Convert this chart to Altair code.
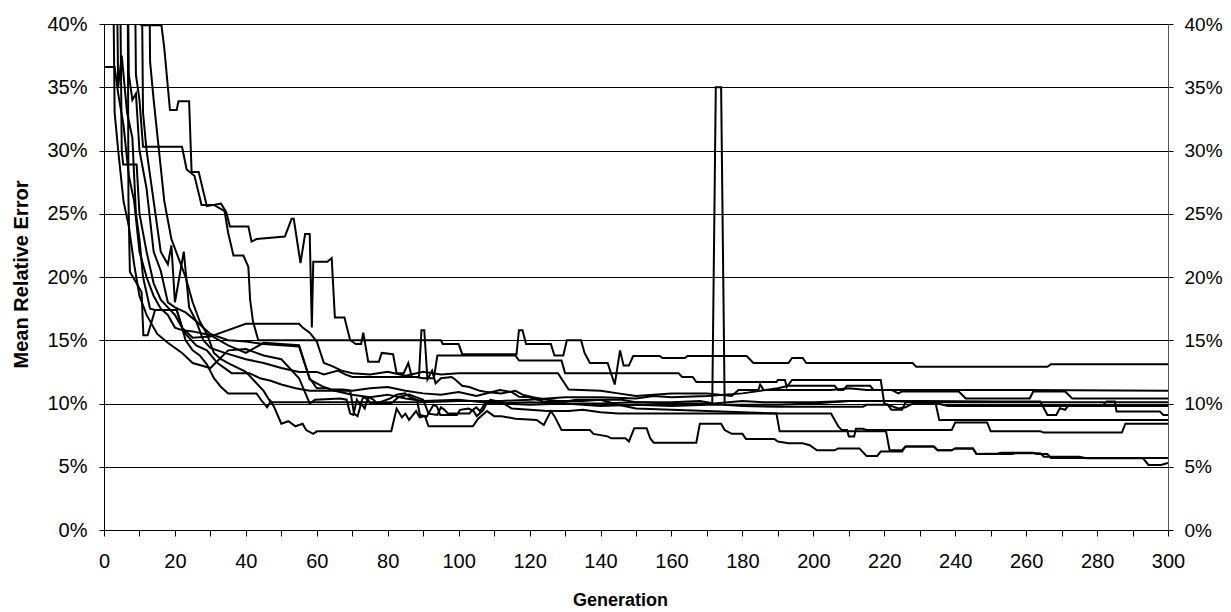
import altair as alt
import pandas as pd

# ---- data: (generation, mean relative error in %) breakpoints per run ----
P = [(0,62),(8,62),(10.5,39.9),(16.2,39.9),(17,38.1),(18.6,33.2),(20.5,33.2),(21,33.9),(24,33.9),(24.7,28.3),(26.7,28.3),(29,25.6),(33,25.8),(34.5,25.1),(35.5,24.0),(40.7,24.0),(41.6,22.8),(43,23.0),(51,23.2),(52.9,24.6),(53.5,24.6),(55.4,21.1),(56.7,23.4),(58,23.4),(58.6,16.0),(59,21.2),(63,21.2),(64.2,21.5),(65.1,16.8),(67.8,16.8),(69.4,15.0),(71,14.7),(72.5,14.7),(73.1,15.6),(74.5,13.3),(77.5,13.3),(78.3,14.0),(81.5,13.9),(82.5,12.4),(84.5,12.4),(85.8,13.2),(86.8,12.1),(88.8,12.1),(89.5,15.8),(90.3,15.8),(91.2,11.9),(92.5,12.6),(93.5,11.6),(95,12.0),(98,12.1),(99,11.9),(101,11.4),(103,11.3),(106,11.0),(108,10.9),(112,10.8),(116,11.0),(118,10.7),(121,10.5),(125,10.3),(128,10.2),(135,10.2),(140,10.3),(146,10.3),(150,10.1),(160,10.1),(168,10.2),(172,10.0),(180,10.2),(186,10.1),(200,10.1),(210,10.2),(222,10.2),(230,10.1),(264,10.1),(300,10.1)]
Q = [(0,65),(8,65),(9,36.0),(10,34.0),(11,30.3),(22,30.3),(23.3,28.5),(25.5,28.0),(27.5,25.7),(31,25.7),(34,25.2),(35,23.5),(36.5,21.7),(39.3,21.7),(40.7,20.8),(41.2,18.2),(42,16.5),(43.5,15.0),(95,15.0),(95.5,14.7),(100,14.7),(101,13.9),(116.3,13.9),(117,15.8),(118,15.8),(119,14.7),(126,14.7),(127,13.8),(129.5,13.8),(130.5,15.0),(134.5,15.0),(135.5,14.0),(137,13.2),(142,13.2),(144,11.5),(145.5,14.2),(146.5,13.0),(148,13.0),(149.2,13.75),(156.7,13.75),(157.5,13.6),(163.8,13.6),(164.5,13.75),(181.2,13.75),(183.1,13.2),(193,13.2),(194,13.6),(197,13.6),(198,13.2),(228,13.2),(229,12.9),(266,12.9),(267,13.1),(300,13.1)]
L3 = [(0,58),(6.5,58),(6.9,26),(7.3,20.4),(9.2,19.5),(10.6,18.8),(11.1,15.4),(12.3,15.4),(14.4,17.4),(20.5,17.4),(21.5,16.5),(23,15.0),(25,14.2),(27,13.8),(29,13.1),(31,12.0),(33,11.3),(35,10.8),(43,10.8),(44.5,10.2),(46,9.7),(47,10.2),(48,9.7),(50,8.4),(52,8.6),(54,8.2),(56,8.4),(57,7.9),(59,7.6),(60,7.8),(81,7.8),(82.5,9.6),(84,8.9),(85,9.2),(86,8.7),(88,9.4),(89,8.9),(90.5,9.0),(91.5,8.2),(104,8.2),(105.5,8.8),(108,9.4),(110,9.0),(112,9.0),(116,8.8),(122,8.7),(124,8.3),(126,9.4),(127,9.0),(129,7.9),(137,7.9),(138,7.6),(142,7.4),(143,7.25),(147,7.25),(148,7.0),(149.5,8.04),(153,8.04),(154,7.25),(155,6.9),(167,6.9),(168,8.4),(174,8.4),(175,7.9),(177,7.6),(180,7.6),(181,7.2),(189,7.2),(190,7.0),(193,6.85),(197,6.85),(199,6.7),(201,6.3),(206,6.3),(207,6.45),(213,6.45),(215,5.85),(218,5.85),(219,6.2),(225,6.2),(226,6.6),(234,6.6),(235,6.3),(239,6.3),(240,6.45),(245,6.45),(246,6.0),(252,6.05),(253,6.1),(262,6.1),(263,6.0),(266,6.0),(267,5.7),(300,5.7)]
L4 = [(0,60),(4,60),(5,30),(5.4,28.9),(9.2,28.9),(10,25),(12,22),(14,19.5),(16,18.2),(18,17.6),(20,17.0),(23,15.5),(26,14.6),(29,14.2),(32,13.2),(36,12.4),(41,12.4),(44,12.0),(47,11.8),(50,11.5),(54,11.2),(58,11.0),(69,11.0),(69.5,10.9),(70.5,9.2),(71.5,9.0),(72.5,10.0),(73.5,9.6),(74.5,10.5),(76,10.3),(77,10.0),(81,10.0),(83,10.5),(86,10.7),(88,10.5),(90,10.3),(91.5,9.2),(94,9.1),(95,9.7),(96,9.5),(97,9.2),(103,9.2),(104,9.5),(105,9.7),(106,9.4),(107.5,10.0),(109,10.3),(112,10.1),(115,9.6),(120,9.5),(125,9.4),(131,9.4),(135,9.5),(140,9.3),(145,9.2),(189.6,9.2),(190.5,7.8),(220.5,7.8),(221.5,6.3),(225,6.3),(226,6.6),(234,6.6),(235,6.3),(239,6.3),(240,6.45),(245,6.45),(246,6.0),(256,6.0),(257,6.06),(264,6.06),(265,5.8),(275,5.8),(277,5.67),(293,5.67),(294.5,5.14),(298,5.14),(300,5.3)]
A2 = [(0,64),(10,64),(11,33),(12,30),(14,26),(16,22),(18,21),(19,22.5),(20,18),(22.5,22),(24,17.6),(26,16.5),(28,15),(30,14.4),(34,14.0),(40,13.5),(45,13.2),(50,12.8),(55,12.5),(60,12.5),(62,12.3),(66,12.6),(68,12.3),(70,12.1),(88,12.1),(90,12.0),(93,12.0),(94,13.8),(116,13.8),(117,13.4),(129,13.4),(130,12.4),(162,12.4),(163,12.1),(166,12.1),(167,11.7),(189.6,11.7),(190,11.86),(192,11.86),(192.5,11.3),(194,11.86),(219,11.86),(220,10.0),(221,9.9),(224,9.6),(226,9.7),(228,10.0),(235,10.0),(238,9.8),(245,9.8),(260,9.8),(300,9.8)]
L6 = [(0,58),(3,58),(4,35),(5,37.5),(6.5,33),(8,31),(9,25),(10,23),(11,20),(13,17.5),(14.4,17.4),(20.5,17.4),(22,16.0),(25,15.2),(30,15.3),(35,15.8),(40,16.3),(55,16.3),(56,16.0),(58,15.6),(60,14.9),(62,13.2),(64,13.0),(67,12.6),(70,12.4),(75,12.3),(80,12.5),(85,12.2),(90,12.5),(95,12.3),(100,12.4),(128,12.4),(131,11.1),(140,11.0),(145,10.8),(150,10.6),(160,10.8),(170,10.8),(177,10.6),(178.9,11.07),(184.5,11.07),(185,11.5),(186,11.07),(196,11.07),(205,11.07),(210,11.2),(215,11.07),(240,11.07),(260,11.07),(300,11.0)]
C = [(0,66),(12,66),(13,37),(14,34),(15.5,30),(17,26),(19,23),(21,21.5),(23,20),(25,18),(27,16.5),(29,15.5),(31,14.0),(33,13.5),(35,13.2),(40,12.5),(45,11.0),(47,10.1),(90,10.1),(100,10.2),(112,10.2),(120,10.3),(130,10.5),(140,10.5),(150,10.4),(155,10.6),(160,10.5),(170,10.6),(180,10.8),(190,11.2),(193,11.4),(206,11.4),(207,11.07),(208.5,11.07),(209.5,11.4),(216,11.4),(217,11.07),(222,11.07),(224,10.8),(225,10.95),(241,10.95),(243,10.4),(261,10.4),(262,10.95),(271,10.95),(273,10.4),(300,10.4)]
F = [(0,60),(2,60),(3,33),(4,30),(5.5,26),(7,24),(8.5,21),(10,18.5),(12,17.0),(15,15.5),(18,14.8),(22,14.0),(25,13.2),(30,12.8),(35,14.2),(40,14.3),(45,13.8),(50,13.5),(55,12.0),(58,10.0),(59.5,10.3),(66.6,10.4),(68.4,10.3),(69.4,9.2),(70.3,9.1),(71.3,10.3),(72.2,9.9),(73.1,10.5),(74.5,10.3),(75,10.0),(76.9,10.0),(80.7,10.4),(82.5,10.7),(84.9,10.8),(86.3,10.5),(88.2,10.3),(89.1,9.1),(91,8.96),(92.9,9.9),(93.9,9.75),(94.8,9.1),(99.5,9.1),(100.4,9.5),(102.8,9.6),(104.2,9.4),(105.1,9.0),(107,9.5),(108,10.1),(112,10.0),(120,9.9),(130,10.0),(140,9.8),(150,9.9),(160,9.8),(170,9.9),(180,9.9),(190,9.9),(200,10.0),(210,10.2),(230,10.2),(252,10.15),(264,10.15),(266,9.1),(268.5,9.1),(269.5,9.62),(271,9.5),(272,9.88),(281.7,9.88),(282.7,10.15),(285,10.15),(285.5,9.36),(297.7,9.36),(298.7,9.1),(300,9.1)]
S = [(0,62),(6,62),(7,36),(8,34),(9,34.5),(10,30),(12,27),(14,22),(16,20.5),(18,18),(20,17.6),(23,17.2),(26,16.5),(30,15.5),(35,15.0),(40,14.9),(45,14.7),(50,14.6),(55,14.5),(58,12.0),(60,11.2),(63,11.2),(65,11.0),(70,10.7),(75,10.5),(80,10.7),(85,10.4),(90,10.2),(100,10.3),(110,10.0),(120,10.1),(130,10.0),(140,10.0),(150,10.1),(160,10.0),(171.5,10.0),(172.5,35.0),(174,35.0),(175,9.9),(180,9.8),(190,9.75),(214,9.75),(215,9.9),(221,9.9),(222,9.5),(225,9.5),(226,10.1),(233,10.1),(234.5,10.0),(235.5,8.7),(300,8.7)]
H = [(0,36.6),(3,36.6),(4,34.5),(5.5,32),(7,28),(8.5,26),(10,22),(12,20),(14,18.5),(16,17.5),(18,17.0),(20,16.0),(22,15.8),(25,15.7),(30,15.4),(35,14.6),(40,14.0),(45,14.8),(50,14.7),(55,14.6),(58,11.9),(60,11.6),(62,11.3),(64,11.1),(67.5,11.1),(70,11.0),(75,11.2),(80,11.3),(85,11.0),(90,10.8),(95,10.7),(100,10.9),(105,10.6),(111.6,11.07),(115,10.9),(117,10.54),(120,10.5),(124,10.14),(130,10.14),(133,10.3),(140,10.3),(145,9.9),(150,9.6),(160,9.5),(170,9.4),(180,9.3),(190,9.2),(205,9.2),(207,8.2),(208,7.9),(209.5,7.9),(210,7.4),(211.5,7.4),(212,8.0),(214,8.0),(215,7.9),(239,7.9),(240,8.5),(249,8.5),(250,7.8),(264,7.8),(265,7.7),(287,7.7),(288,8.4),(300,8.4)]

SERIES = {"P": P, "Q": Q, "L3": L3, "L4": L4, "A2": A2, "L6": L6, "C": C, "F": F, "S": S, "H": H}
Y_TICKS = [0, 5, 10, 15, 20, 25, 30, 35, 40]
X_TICKS = list(range(0, 301, 10))

rows = []
for name, pts in SERIES.items():
    for i, (g, v) in enumerate(pts):
        rows.append({"series": name, "idx": i, "gen": g, "val": v})
df = pd.DataFrame(rows)

FONT = "Liberation Sans"
xscale = alt.Scale(domain=[0, 300], nice=False, zero=False)
yscale = alt.Scale(domain=[0, 40], nice=False)

xaxis = alt.Axis(values=X_TICKS, labelExpr="datum.value % 20 === 0 ? '' + datum.value : ''",
                 grid=False, tickSize=6, tickColor="black", domainColor="black",
                 labelFont=FONT, labelFontSize=20, labelColor="black", labelPadding=15,
                 labelFlush=False, labelOverlap=False,
                 title="Generation", titleFont=FONT, titleFontSize=18, titleFontWeight="bold",
                 titleColor="black", titleX=516, titleY=70, titleAlign="center", titleBaseline="middle")

yaxis_left = alt.Axis(values=Y_TICKS, labelExpr="datum.value + '%'", grid=True, gridColor="black",
                      gridWidth=1, tickSize=5, tickColor="black", domainColor="black",
                      labelFont=FONT, labelFontSize=20, labelColor="black", labelPadding=12,
                      labelFlush=False, labelOverlap=False,
                      title="Mean Relative Error", titleFont=FONT, titleFontSize=20,
                      titleFontWeight="bold", titleColor="black", titleX=-83, titleY=250,
                      titleAngle=270, titleAlign="center", titleBaseline="middle")

yaxis_right = alt.Axis(values=Y_TICKS, labelExpr="datum.value + '%'", grid=False, orient="right",
                       tickSize=5, tickColor="black", domainColor="#555",
                       labelFont=FONT, labelFontSize=19, labelColor="black", labelPadding=11,
                       labelFlush=False, labelOverlap=False, title=None)

base = alt.Chart(df)
lines = base.mark_line(color="black", strokeWidth=2, clip=True).encode(
    x=alt.X("gen:Q", scale=xscale, axis=xaxis),
    y=alt.Y("val:Q", scale=yscale, axis=yaxis_left),
    detail="series:N",
    order="idx:Q",
)
right = base.mark_point(opacity=0, clip=True).encode(
    x=alt.X("gen:Q", scale=xscale, axis=xaxis),
    y=alt.Y("val:Q", scale=yscale, axis=yaxis_right),
)

chart = alt.layer(lines, right).resolve_scale(y="independent").properties(
    width=1064, height=506,
    autosize=alt.AutoSizeParams(type="none"),
    padding={"left": 96, "top": 16, "right": 55, "bottom": 82},
).configure_view(stroke=None).configure(background="white")

chart.save("out.html", embed_options={"renderer": "svg", "actions": False})
